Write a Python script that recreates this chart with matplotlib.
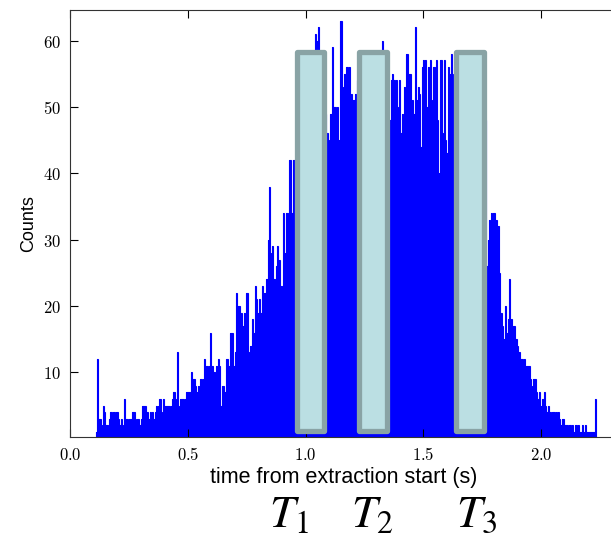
import matplotlib
matplotlib.use('Agg')
import matplotlib.pyplot as plt
import numpy as np
from matplotlib.patches import Rectangle

plt.rcParams['mathtext.fontset'] = 'cm'

# histogram counts, 0.005 s bins starting at 0.108 s
counts = [
    1, 12, 3, 3, 2, 1, 5, 4, 2, 2, 1, 3, 4, 4, 2, 4, 3, 4, 4, 3,
    2, 3, 2, 1, 6, 3, 3, 2, 3, 3, 3, 4, 4, 3, 2, 3, 3, 2, 3, 5,
    5, 5, 5, 4, 3, 3, 4, 3, 4, 3, 4, 5, 4, 5, 6, 4, 3, 6, 4, 5,
    5, 5, 5, 4, 5, 6, 7, 6, 5, 13, 5, 3, 6, 6, 6, 4, 6, 7, 7, 7,
    7, 10, 9, 9, 8, 6, 7, 8, 6, 9, 8, 9, 12, 8, 11, 10, 11, 16, 11, 11,
    10, 8, 11, 9, 12, 11, 5, 8, 8, 7, 7, 12, 11, 11, 16, 16, 16, 11, 13, 22,
    20, 20, 20, 19, 9, 17, 19, 17, 22, 13, 10, 14, 14, 18, 16, 23, 21, 16, 19, 21,
    19, 23, 19, 22, 22, 24, 30, 38, 28, 23, 29, 24, 19, 26, 29, 25, 27, 23, 13, 34,
    25, 28, 34, 25, 42, 42, 34, 34, 42, 40, 44, 38, 46, 41, 48, 44, 50, 46, 52, 47,
    53, 49, 55, 51, 57, 53, 61, 56, 60, 62, 57, 54, 58, 52, 55, 49, 46, 45, 36, 49,
    49, 59, 50, 50, 47, 50, 43, 45, 63, 53, 45, 55, 45, 56, 48, 56, 44, 52, 47, 51,
    52, 50, 54, 48, 53, 50, 55, 49, 54, 51, 56, 50, 55, 52, 57, 50, 54, 52, 56, 51,
    55, 52, 57, 60, 54, 52, 55, 50, 48, 48, 48, 54, 55, 54, 52, 54, 50, 43, 54, 46,
    49, 43, 53, 50, 58, 48, 55, 55, 47, 51, 49, 62, 49, 51, 53, 52, 44, 56, 57, 49,
    57, 50, 56, 49, 57, 51, 49, 56, 50, 57, 48, 33, 40, 57, 46, 36, 57, 45, 43, 56,
    44, 55, 58, 55, 52, 50, 53, 48, 51, 46, 49, 44, 47, 42, 45, 40, 43, 38, 41, 37,
    40, 36, 38, 34, 37, 33, 36, 32, 35, 31, 34, 48, 26, 30, 33, 31, 34, 32, 34, 30,
    33, 28, 32, 25, 19, 17, 14, 15, 20, 16, 18, 24, 16, 18, 16, 17, 15, 15, 14, 12,
    13, 12, 12, 11, 12, 10, 11, 11, 11, 9, 8, 6, 9, 9, 7, 6, 6, 7, 5, 6,
    6, 7, 5, 4, 5, 4, 4, 3, 4, 4, 3, 4, 3, 4, 3, 2, 3, 3, 2, 2,
    2, 1, 2, 2, 1, 2, 1, 2, 2, 1, 2, 1, 1, 2, 1, 1, 2, 1, 1, 1,
    1, 1, 1, 1, 6,
]
bin_start = 0.108
bin_width = 0.005

# the three highlighted time windows
window_left = [0.962, 1.228, 1.641]
window_width = 0.116
window_bottom = 1.2
window_top = 58.2
window_names = [r'$T_1$', r'$T_2$', r'$T_3$']

xticks = [0.0, 0.5, 1.0, 1.5, 2.0]
yticks = [10, 20, 30, 40, 50, 60]

fig = plt.figure(figsize=(6.11, 5.38), dpi=100)
# right edge of the axes sits just past the image border
ax = fig.add_axes([0.1152, 0.1883, 0.893, 0.7931])

edges = bin_start + bin_width * np.arange(len(counts) + 1)
ax.stairs(counts, edges, fill=True, color='#0000ff', lw=0)
ax.stairs(counts, edges, color='#0000ff', lw=0.8)

for x0 in window_left:
    ax.add_patch(Rectangle((x0, window_bottom), window_width,
                           window_top - window_bottom,
                           facecolor='#bbdfe3', edgecolor='#89a3a5',
                           lw=3.8, joinstyle='round', zorder=3))

ax.set_xlim(0, 2.319)
ax.set_ylim(0.3, 64.6)
ax.set_xticks(xticks)
ax.set_xticklabels([f'${v:.1f}$' for v in xticks])
ax.set_yticks(yticks)
ax.set_yticklabels([f'${v}$' for v in yticks])
ax.tick_params(direction='in', top=True, right=False, length=6,
               labelsize=12, pad=7)
for s in ax.spines.values():
    s.set_color('#333333')

ax.set_xlabel('time from extraction start (s)', fontsize=15.5,
              family='Liberation Sans', labelpad=2)
ax.set_ylabel('Counts', fontsize=13, family='Liberation Sans')

for x, name in zip([0.440, 0.575, 0.747], window_names):
    fig.text(x, 0.021, name, fontsize=33, math_fontfamily='stix')

fig.savefig('out.png', dpi=100)
